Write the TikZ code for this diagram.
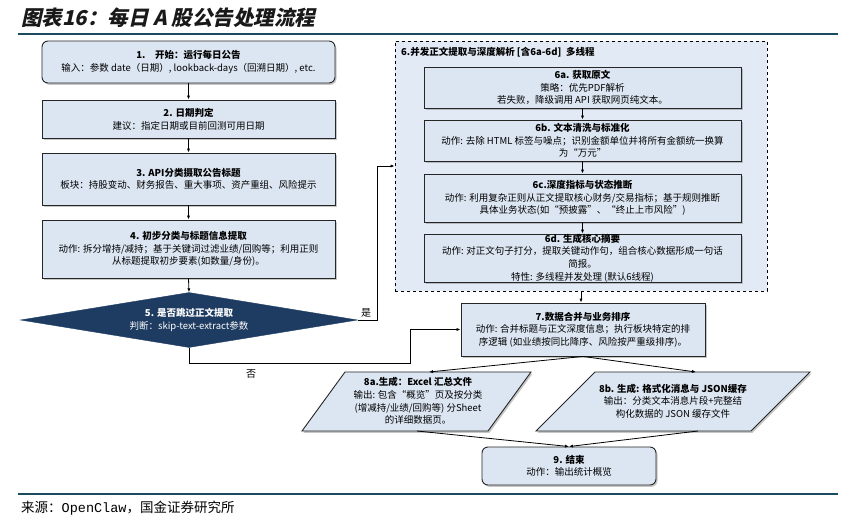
\documentclass[tikz,border=0pt]{standalone}
\usepackage{fontspec}
\setmainfont{Noto Sans CJK SC}
\newfontfamily\titlefont[FakeSlant=0.22]{Noto Sans CJK SC}
\newfontfamily\srcmono{Liberation Mono}
\usetikzlibrary{arrows.meta,shapes.geometric,shadows}
\definecolor{boxfill}{HTML}{DCE6F2}
\definecolor{panelfill}{HTML}{E2EAF5}
\definecolor{boxline}{HTML}{262626}
\definecolor{navy}{HTML}{1E3B61}
\definecolor{rulecol}{HTML}{1B4B5E}
\tikzset{
  shade box/.style={drop shadow={shadow xshift=1.5pt,shadow yshift=-1.8pt,fill=black!50,opacity=0.45}},
  box/.style={draw=boxline,line width=0.9pt,fill=boxfill,align=center,inner sep=0pt,
    font=\fontsize{9.5}{12.6}\selectfont,shade box},
  roundbox/.style={box,rounded corners=6pt},
  pbox/.style={draw=boxline,line width=0.9pt,fill=boxfill,shade box},
  ptext/.style={align=center,inner sep=0pt,font=\fontsize{9.5}{12.6}\selectfont},
  arr/.style={draw=black,line width=0.8pt,-{Latex[length=4pt,width=3.2pt]}},
  rule/.style={draw=rulecol,line width=1.4pt}
}
\begin{document}
\begin{tikzpicture}[x=1pt,y=-1pt]
\useasboundingbox (0,0) rectangle (852,522);
% title and rules
\node[anchor=west,inner sep=0pt,font=\titlefont\bfseries\fontsize{20.5}{21}\selectfont,text=black!90] (title) at (21,18) {图表16：每日 A 股公告处理流程};
\draw[rule] (18,34) -- (838,34);
\draw[rule] (18,494) -- (838,494);
\node[anchor=west,inner sep=0pt,font=\fontsize{13.5}{14}\selectfont] (src) at (21,508) {来源：{\srcmono OpenClaw}，国金证券研究所};
% left column
\node[roundbox,minimum width=293pt,minimum height=42pt] (b1) at (188.5,62)
  {\textbf{1.\quad 开始：运行每日公告}\\输入：参数 date（日期）, lookback-days（回溯日期）, etc.};
\node[box,minimum width=293pt,minimum height=38pt] (b2) at (188.5,119)
  {\textbf{2. 日期判定}\\建议：指定日期或目前回测可用日期};
\node[box,minimum width=293pt,minimum height=52pt] (b3) at (188.5,179)
  {\textbf{3. API分类摄取公告标题}\\板块：持股变动、财务报告、重大事项、资产重组、风险提示};
\node[box,minimum width=293pt,minimum height=58pt] (b4) at (188.5,249)
  {\textbf{4. 初步分类与标题信息提取}\\动作: 拆分增持/减持；基于关键词过滤业绩/回购等；利用正则\\从标题提取初步要素(如数量/身份)。};
\node[diamond,shape aspect=6.2,fill=navy,draw=navy,text=white,minimum width=337pt,minimum height=55pt,
  inner sep=0pt,align=center,font=\fontsize{9.5}{12.6}\selectfont] (d5) at (189,320)
  {\textbf{5. 是否跳过正文提取}\\判断：skip-text-extract参数};
% right panel
\node[draw=black,dashed,line width=0.9pt,fill=panelfill,minimum width=372pt,minimum height=250pt,inner sep=0pt] (p6) at (581,166) {};
\node[anchor=west,inner sep=0pt,font=\bfseries\fontsize{9.5}{11}\selectfont] (t6) at (401,52) {6.并发正文提取与深度解析 [含6a-6d]\enspace 多线程};
\node[box,minimum width=317pt,minimum height=41pt] (b6a) at (582.5,87.5)
  {\textbf{6a. 获取原文}\\策略：优先PDF解析\\若失败，降级调用 API 获取网页纯文本。};
\node[box,minimum width=317pt,minimum height=41pt] (b6b) at (582.5,140.5)
  {\textbf{6b. 文本清洗与标准化}\\动作: 去除 HTML 标签与噪点；识别金额单位并将所有金额统一换算\\为“万元”};
\node[box,minimum width=317pt,minimum height=48pt] (b6c) at (582.5,198)
  {\textbf{6c.深度指标与状态推断}\\动作: 利用复杂正则从正文提取核心财务/交易指标；基于规则推断\\具体业务状态(如“预披露”、“终止上市风险”)};
\node[box,minimum width=317pt,minimum height=48pt] (b6d) at (582.5,258)
  {\textbf{6d. 生成核心摘要}\\动作: 对正文句子打分，提取关键动作句，组合核心数据形成一句话\\简报。\\特性: 多线程并发处理 (默认6线程)};
% lower part
\node[box,minimum width=244pt,minimum height=53pt] (b7) at (583,329.5)
  {\textbf{7.数据合并与业务排序}\\动作: 合并标题与正文深度信息；执行板块特定的排\\序逻辑 (如业绩按同比降序、风险按严重级排序)。};
\draw[pbox] (302,431) -- (345,372) -- (531,372) -- (488,431) -- cycle;
\node[ptext] (b8a) at (418,401)
  {\textbf{8a.生成：Excel 汇总文件}\\输出: 包含“概览”页及按分类\\(增减持/业绩/回购等) 分Sheet\\的详细数据页。};
\draw[pbox] (536,431) -- (595,372) -- (810,372) -- (751,431) -- cycle;
\node[ptext] (b8b) at (673,401)
  {\textbf{8b. 生成: 格式化消息与 JSON缓存}\\输出：分类文本消息片段+完整结\\构化数据的 JSON 缓存文件};
\coordinate (t8a) at (429,372);
\coordinate (s8a) at (417,431);
\coordinate (t8b) at (696,372);
\coordinate (s8b) at (698,431);
\node[roundbox,minimum width=174pt,minimum height=38pt] (b9) at (569,466)
  {\textbf{9. 结束}\\动作：输出统计概览};
% connectors
\draw[arr] (b1.south) -- (b2.north);
\draw[arr] (b2.south) -- (b3.north);
\draw[arr] (b3.south) -- (b4.north);
\draw[arr] (b4.south) -- (d5.north);
\draw[arr] (d5.east) -- ++(20,0) |- (p6.west);
\node[font=\fontsize{10}{10}\selectfont,inner sep=0pt] (yes) at (366,313) {是};
\draw[arr] (d5.south) |- (410,363) |- (b7.west);
\node[font=\fontsize{10}{10}\selectfont,inner sep=0pt] (no) at (251,374) {否};
\draw[arr] (b6a.south) -- (b6b.north);
\draw[arr] (b6b.south) -- (b6c.north);
\draw[arr] (b6c.south) -- (b6d.north);
\draw[arr] (p6.south) -- (p6.south |- b7.north);
\draw[arr] (b7.south) -- (t8a);
\draw[arr] (b7.south) -- (t8b);
\draw[arr] (s8a) -- (b9.north);
\draw[arr] (s8b) -- (b9.north);
\end{tikzpicture}
\end{document}
